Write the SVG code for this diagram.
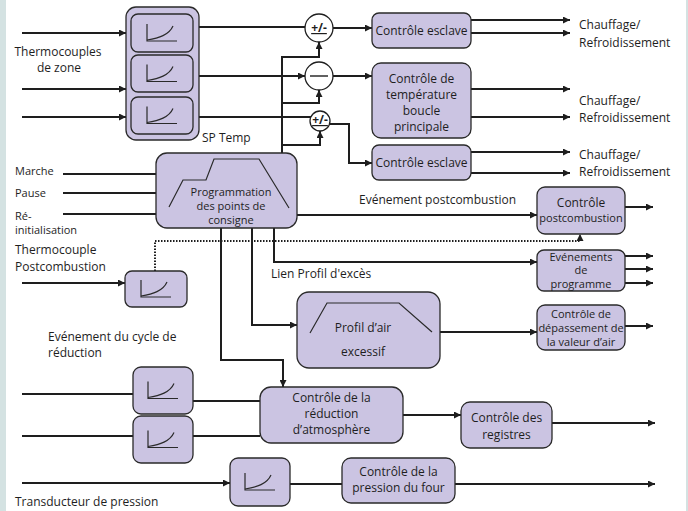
<svg xmlns="http://www.w3.org/2000/svg" xmlns:xlink="http://www.w3.org/1999/xlink" width="688" height="511" viewBox="0 0 688 511">
<style>
.bx{fill:#cbc4e2;stroke:#2a2a2a;stroke-width:1.3}
.ln{fill:none;stroke:#1e1e1e;stroke-width:2}
.dot{fill:none;stroke:#1e1e1e;stroke-width:2;stroke-dasharray:1.5,1.5}
.ic{fill:none;stroke:#2a2a2a;stroke-width:1.2}
.ci{fill:#fff;stroke:#1e1e1e;stroke-width:1.3}
text{font-family:"Open Sans","Liberation Sans",sans-serif;font-size:12px;fill:#1e1e1e}
.c{text-anchor:middle}
.n{font-size:11px}
</style>
<defs>
<marker id="ah" viewBox="0 0 10 10" refX="10" refY="5" markerWidth="9" markerHeight="7" orient="auto" markerUnits="userSpaceOnUse">
<path d="M0,0 L10,5 L0,10 z" fill="#1e1e1e"/>
</marker>
<g id="tc">
<path class="ic" d="M-15,-9 V8 H15"/>
<path class="ic" d="M-15,7 C-3,5 7,2 11,-7"/>
</g>
</defs>
<rect x="0" y="0" width="688" height="511" fill="#fff"/>
<rect x="0" y="0" width="6" height="511" fill="#d4e2e2"/>
<rect x="686" y="0" width="2" height="511" fill="#d4e2e2"/>

<g id="connectors">
<path class="ln" d="M22,33 H126" marker-end="url(#ah)"/>
<path class="ln" d="M22,89 H126" marker-end="url(#ah)"/>
<path class="ln" d="M22,117 H126" marker-end="url(#ah)"/>
<path class="ln" d="M199,27 H305"/>
<path class="ln" d="M199,76 H305" marker-end="url(#ah)"/>
<path class="ln" d="M199,117 H311"/>
<path class="ln" d="M333,28 H372" marker-end="url(#ah)"/>
<path class="ln" d="M333,76 H372" marker-end="url(#ah)"/>
<path class="ln" d="M330,124 H349 V163 H372" marker-end="url(#ah)"/>
<path class="ln" d="M282,153 V57 H319 V42" marker-end="url(#ah)"/>
<path class="ln" d="M282,103 H319 V90" marker-end="url(#ah)"/>
<path class="ln" d="M282,145 H320 V131" marker-end="url(#ah)"/>
<path class="ln" d="M471,20 H570" marker-end="url(#ah)"/>
<path class="ln" d="M471,33 H570" marker-end="url(#ah)"/>
<path class="ln" d="M471,89 H570" marker-end="url(#ah)"/>
<path class="ln" d="M471,117 H570" marker-end="url(#ah)"/>
<path class="ln" d="M471,152 H570" marker-end="url(#ah)"/>
<path class="ln" d="M471,173 H570" marker-end="url(#ah)"/>
<path class="ln" d="M63,174 H156"/>
<path class="ln" d="M63,193 H156"/>
<path class="ln" d="M63,214 H156"/>
<path class="ln" d="M297,215 H537" marker-end="url(#ah)"/>
<path class="dot" d="M155,271 V241 H580 V234" marker-end="url(#ah)"/>
<path class="ln" d="M274,228 V262 H537" marker-end="url(#ah)"/>
<path class="ln" d="M252,228 V325 H297" marker-end="url(#ah)"/>
<path class="ln" d="M221,228 V360 H283 V387" marker-end="url(#ah)"/>
<path class="ln" d="M625,207 H653" marker-end="url(#ah)"/>
<path class="ln" d="M625,256 H653" marker-end="url(#ah)"/>
<path class="ln" d="M625,269 H653" marker-end="url(#ah)"/>
<path class="ln" d="M625,283 H653" marker-end="url(#ah)"/>
<path class="ln" d="M440,332 H537" marker-end="url(#ah)"/>
<path class="ln" d="M625,326 H653" marker-end="url(#ah)"/>
<path class="ln" d="M22,283 H125" marker-end="url(#ah)"/>
<path class="ln" d="M22,394 H133"/>
<path class="ln" d="M22,436 H133"/>
<path class="ln" d="M193,401 H260"/>
<path class="ln" d="M193,436 H260"/>
<path class="ln" d="M403,415 H461" marker-end="url(#ah)"/>
<path class="ln" d="M552,423 H655" marker-end="url(#ah)"/>
<path class="ln" d="M22,483 H230" marker-end="url(#ah)"/>
<path class="ln" d="M290,484 H342"/>
<path class="ln" d="M455,484 H655" marker-end="url(#ah)"/>
</g>

<g id="zone-tc">
<rect class="bx" x="126" y="7" width="73" height="133" rx="10"/>
<rect class="bx" x="131" y="14" width="62" height="38" rx="7"/>
<rect class="bx" x="131" y="55" width="62" height="37" rx="7"/>
<rect class="bx" x="131" y="97" width="62" height="37" rx="7"/>
<use xlink:href="#tc" x="162" y="33"/>
<use xlink:href="#tc" x="162" y="73.5"/>
<use xlink:href="#tc" x="162" y="115.5"/>
</g>

<g id="sum1">
<circle class="ci" cx="319" cy="28" r="14"/>
<text class="c" x="319" y="32" font-weight="bold" font-size="11" text-decoration="underline">+/-</text>
</g>
<g id="sum2">
<circle class="ci" cx="319" cy="76" r="14"/>
<path d="M310,76 H328" stroke="#1e1e1e" stroke-width="1.4"/>
</g>
<g id="sum3">
<circle class="ci" cx="320" cy="121" r="10"/>
<text class="c" x="320" y="124" font-size="8.5" font-weight="bold" text-decoration="underline">+/-</text>
</g>

<g id="slave1">
<rect class="bx" x="372" y="13" width="99" height="35" rx="7"/>
<text class="c" x="421.5" y="35">Contrôle esclave</text>
</g>
<g id="master">
<rect class="bx" x="372" y="63" width="99" height="75" rx="9"/>
<text class="c" x="421.5" y="83">Contrôle de</text>
<text class="c" x="421.5" y="99">température</text>
<text class="c" x="421.5" y="115">boucle</text>
<text class="c" x="421.5" y="131">principale</text>
</g>
<g id="slave2">
<rect class="bx" x="372" y="145" width="99" height="35" rx="7"/>
<text class="c" x="421.5" y="167">Contrôle esclave</text>
</g>

<g id="labels-out">
<text x="579" y="29">Chauffage/</text>
<text x="579" y="47">Refroidissement</text>
<text x="579" y="105">Chauffage/</text>
<text x="579" y="122">Refroidissement</text>
<text x="579" y="159">Chauffage/</text>
<text x="579" y="176">Refroidissement</text>
</g>

<g id="labels-in">
<text class="c" x="58" y="56">Thermocouples</text>
<text class="c" x="59" y="72">de zone</text>
<text x="202" y="142">SP Temp</text>
<text class="n" x="15" y="175">Marche</text>
<text class="n" x="15" y="197">Pause</text>
<text class="n" x="15" y="220">Ré-</text>
<text class="n" x="15" y="234">initialisation</text>
<text x="15" y="254">Thermocouple</text>
<text x="15" y="271">Postcombustion</text>
<text x="359" y="204">Evénement postcombustion</text>
<text x="271" y="278">Lien Profil d'excès</text>
<text x="48" y="341">Evénement du cycle de</text>
<text x="48" y="357">réduction</text>
<text x="15" y="506">Transducteur de pression</text>
</g>

<g id="programmer">
<rect class="bx" x="156" y="153" width="141" height="75" rx="11"/>
<path class="ic" d="M169,207 L183,180 H206 L214,159 H259 L289,208"/>
<text class="c n" x="231" y="196">Programmation</text>
<text class="c n" x="231" y="210">des points de</text>
<text class="c n" x="231" y="224">consigne</text>
</g>

<g id="postcomb-tc">
<rect class="bx" x="125" y="271" width="62" height="36" rx="7"/>
<use xlink:href="#tc" x="156" y="289"/>
</g>

<g id="postcomb-ctrl">
<rect class="bx" x="537" y="187" width="88" height="47" rx="8"/>
<text class="c" x="581" y="207">Contrôle</text>
<text class="c n" x="581" y="222">postcombustion</text>
</g>

<g id="prog-events">
<rect class="bx" x="537" y="250" width="88" height="41" rx="7"/>
<text class="c n" x="581" y="260.5">Evénements</text>
<text class="c n" x="581" y="274">de</text>
<text class="c n" x="581" y="288">programme</text>
</g>

<g id="air-profile">
<rect class="bx" x="297" y="292" width="143" height="76" rx="12"/>
<path class="ic" d="M310,333 L327,303 H399 L432,332"/>
<text class="c" x="363" y="332">Profil d’air</text>
<text class="c" x="363" y="356">excessif</text>
</g>

<g id="air-ctrl">
<rect class="bx" x="537" y="305" width="88" height="45" rx="8"/>
<text class="c n" x="581" y="318">Contrôle de</text>
<text class="c n" x="581" y="332">dépassement de</text>
<text class="c n" x="581" y="346">la valeur d’air</text>
</g>

<g id="red-tc">
<rect class="bx" x="133" y="367" width="60" height="47" rx="8"/>
<rect class="bx" x="133" y="416" width="60" height="47" rx="8"/>
<use xlink:href="#tc" x="163" y="390.5"/>
<use xlink:href="#tc" x="163" y="439.5"/>
</g>

<g id="reduction">
<rect class="bx" x="260" y="387" width="143" height="56" rx="11"/>
<text class="c" x="331.5" y="402">Contrôle de la</text>
<text class="c" x="331.5" y="418">réduction</text>
<text class="c" x="331.5" y="434">d’atmosphère</text>
</g>

<g id="registers">
<rect class="bx" x="461" y="402" width="91" height="46" rx="9"/>
<text class="c" x="506.5" y="422">Contrôle des</text>
<text class="c" x="506.5" y="439">registres</text>
</g>

<g id="pressure-tc">
<rect class="bx" x="230" y="458" width="60" height="48" rx="8"/>
<use xlink:href="#tc" x="260" y="482"/>
</g>

<g id="pressure-ctrl">
<rect class="bx" x="342" y="458" width="113" height="45" rx="9"/>
<text class="c" x="398.5" y="476">Contrôle de la</text>
<text class="c" x="398.5" y="492">pression du four</text>
</g>
</svg>
